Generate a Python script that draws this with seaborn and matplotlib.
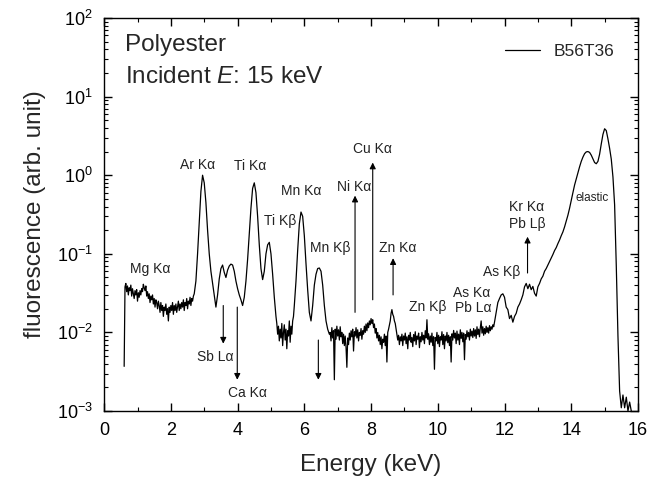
import numpy as np
import pandas as pd
import matplotlib
matplotlib.use("Agg")
import matplotlib.pyplot as plt
from matplotlib.ticker import LogLocator, MultipleLocator, NullFormatter
import seaborn as sns

# spectrum, in segments (finer steps where the trace is noisy)
energy_a = np.round(np.linspace(0.600, 2.700, 85), 3)     # 0.025 keV
fluor_a = [
    0.0037, 0.038, 0.042, 0.033, 0.039, 0.030, 0.037, 0.034, 0.040, 0.029,
    0.036, 0.031, 0.027, 0.034, 0.030, 0.035, 0.025, 0.032, 0.028, 0.034,
    0.030, 0.036, 0.033, 0.041, 0.037, 0.034, 0.039, 0.029, 0.033, 0.027,
    0.031, 0.024, 0.029, 0.026, 0.030, 0.023, 0.027, 0.021, 0.026, 0.024,
    0.020, 0.025, 0.022, 0.018, 0.024, 0.019, 0.022, 0.016, 0.021, 0.019,
    0.023, 0.017, 0.020, 0.014, 0.021, 0.018, 0.022, 0.019, 0.024, 0.017,
    0.022, 0.019, 0.023, 0.018, 0.021, 0.025, 0.019, 0.023, 0.020, 0.024,
    0.021, 0.026, 0.019, 0.024, 0.022, 0.027, 0.020, 0.025, 0.023, 0.028,
    0.022, 0.027, 0.025, 0.029, 0.031,
]
energy_b = np.round(np.linspace(2.75, 5.10, 48), 3)       # 0.05 keV
fluor_b = [
    0.045, 0.10, 0.25, 0.62, 1.00, 0.80, 0.45, 0.20, 0.10, 0.060,
    0.042, 0.030, 0.021, 0.030, 0.048, 0.065, 0.072, 0.058, 0.050, 0.062,
    0.070, 0.074, 0.072, 0.060, 0.045, 0.036, 0.030, 0.026, 0.022, 0.028,
    0.045, 0.085, 0.18, 0.38, 0.68, 0.80, 0.60, 0.30, 0.13, 0.065,
    0.047, 0.060, 0.10, 0.13, 0.14, 0.10, 0.055, 0.028,
]
energy_c = np.round(np.linspace(5.125, 5.700, 24), 3)     # 0.025 keV
fluor_c = [
    0.021, 0.016, 0.013, 0.0095, 0.012, 0.0078, 0.011, 0.0085, 0.013, 0.0068,
    0.010, 0.0125, 0.0080, 0.011, 0.0062, 0.0105, 0.0090, 0.014, 0.0075, 0.012,
    0.0095, 0.0140, 0.0160, 0.022,
]
energy_d = np.round(np.linspace(5.75, 6.75, 21), 3)       # 0.05 keV
fluor_d = [
    0.045, 0.11, 0.24, 0.34, 0.30, 0.17, 0.075, 0.035, 0.018, 0.014,
    0.022, 0.040, 0.055, 0.065, 0.066, 0.060, 0.040, 0.022, 0.014, 0.011,
    0.0095,
]
energy_e = np.round(np.linspace(6.775, 11.700, 198), 3)   # 0.025 keV
fluor_e = [
    0.0100, 0.0078, 0.0115, 0.0085, 0.0105, 0.0025, 0.0110, 0.0082, 0.0120, 0.0090,
    0.0108, 0.0080, 0.0118, 0.0088, 0.0100, 0.0072, 0.0095, 0.0068, 0.0090, 0.0065,
    0.0036, 0.0085, 0.0070, 0.0098, 0.0080, 0.0105, 0.0088, 0.0110, 0.0058, 0.0102,
    0.0090, 0.0115, 0.0085, 0.0108, 0.0078, 0.0100, 0.0092, 0.0112, 0.0082, 0.0105,
    0.0095, 0.0120, 0.0100, 0.0128, 0.0105, 0.0132, 0.0115, 0.0140, 0.0125, 0.0150,
    0.0130, 0.0145, 0.0115, 0.0128, 0.0098, 0.0112, 0.0085, 0.0100, 0.0078, 0.0092,
    0.0070, 0.0088, 0.0062, 0.0082, 0.0075, 0.0095, 0.0068, 0.0090, 0.0042, 0.0100,
    0.0110, 0.0125, 0.0140, 0.0175, 0.0195, 0.0170, 0.0160, 0.0140, 0.0130, 0.0110,
    0.0095, 0.0080, 0.0092, 0.0070, 0.0088, 0.0078, 0.0095, 0.0068, 0.0090, 0.0080,
    0.0098, 0.0072, 0.0088, 0.0062, 0.0092, 0.0080, 0.0100, 0.0075, 0.0086, 0.0066,
    0.0094, 0.0078, 0.0102, 0.0070, 0.0090, 0.0082, 0.0098, 0.0064, 0.0088, 0.0076,
    0.0100, 0.0080, 0.0092, 0.0072, 0.0105, 0.0085, 0.0145, 0.0082, 0.0096, 0.0070,
    0.0090, 0.0075, 0.0098, 0.0068, 0.0088, 0.0034, 0.0086, 0.0078, 0.0100, 0.0072,
    0.0092, 0.0066, 0.0088, 0.0080, 0.0102, 0.0070, 0.0094, 0.0062, 0.0090, 0.0078,
    0.0100, 0.0074, 0.0092, 0.0068, 0.0088, 0.0042, 0.0096, 0.0080, 0.0106, 0.0085,
    0.0098, 0.0072, 0.0104, 0.0080, 0.0095, 0.0070, 0.0108, 0.0084, 0.0100, 0.0076,
    0.0098, 0.0045, 0.0094, 0.0082, 0.0105, 0.0088, 0.0100, 0.0080, 0.0110, 0.0090,
    0.0104, 0.0086, 0.0112, 0.0090, 0.0108, 0.0084, 0.0118, 0.0094, 0.0110, 0.0088,
    0.0115, 0.0140, 0.0098, 0.0118, 0.0092, 0.0112, 0.0096, 0.0120, 0.0100, 0.0115,
    0.0098, 0.0122, 0.0105, 0.0118, 0.0110, 0.0125, 0.0118, 0.0135,
]
energy_f = np.round(np.linspace(11.75, 15.80, 82), 3)     # 0.05 keV
fluor_f = [
    0.0180, 0.0240, 0.0270, 0.0300, 0.0310, 0.0280, 0.0210, 0.0195, 0.0150, 0.0165,
    0.0135, 0.0160, 0.0175, 0.0210, 0.0230, 0.0260, 0.0300, 0.0380, 0.0420, 0.0360,
    0.0410, 0.0350, 0.0385, 0.0315, 0.0290, 0.0380, 0.0420, 0.048, 0.052, 0.060,
    0.065, 0.072, 0.080, 0.088, 0.098, 0.110, 0.120, 0.135, 0.150, 0.170,
    0.190, 0.220, 0.260, 0.310, 0.380, 0.480, 0.600, 0.75, 0.90, 1.08,
    1.28, 1.50, 1.70, 1.88, 1.98, 2.00, 1.95, 1.80, 1.62, 1.45,
    1.40, 1.50, 1.85, 2.50, 3.30, 3.90, 3.70, 2.90, 2.20, 1.60,
    0.95, 0.42, 0.070, 0.0090, 0.0018, 0.0011, 0.0016, 0.0011, 0.0015, 0.0010,
    0.0013, 0.0010,
]

# peak labels: text, energy (keV), height
label_text = ["Mg K\u03b1", "Ar K\u03b1", "Ti K\u03b1", "Ti K\u03b2", "Mn K\u03b1", "Mn K\u03b2",
              "Ni K\u03b1", "Cu K\u03b1", "Zn K\u03b1", "Zn K\u03b2", "As K\u03b1", "Pb L\u03b1",
              "As K\u03b2", "Kr K\u03b1", "Pb L\u03b2", "Sb L\u03b1", "Ca K\u03b1"]
label_x = [1.38, 2.80, 4.39, 5.27, 5.90, 6.77, 7.49, 8.03, 8.80, 9.70, 11.02, 11.06,
           11.90, 12.67, 12.67, 3.32, 4.28]
label_y = [0.064, 1.34, 1.30, 0.26, 0.63, 0.118, 0.70, 2.14, 0.12, 0.021, 0.032, 0.0205,
           0.058, 0.39, 0.238, 0.0048, 0.0017]

# arrows: energy, tail, head
arrow_x = [3.57, 3.99, 6.42, 7.52, 8.05, 8.66, 12.69]
arrow_from = [0.022, 0.021, 0.008, 0.018, 0.026, 0.030, 0.057]
arrow_to = [0.0072, 0.0025, 0.0025, 0.55, 1.45, 0.088, 0.165]

df = pd.DataFrame({
    "Energy": np.concatenate([energy_a, energy_b, energy_c, energy_d, energy_e, energy_f]),
    "fluor": fluor_a + fluor_b + fluor_c + fluor_d + fluor_e + fluor_f,
})

sns.set_theme(style="ticks")
plt.rcParams["font.family"] = ["Liberation Sans", "DejaVu Sans"]
plt.rcParams["mathtext.fontset"] = "custom"
plt.rcParams["mathtext.rm"] = "Liberation Sans"
plt.rcParams["mathtext.it"] = "Liberation Sans:italic"

fig = plt.figure(figsize=(6.55, 4.87), dpi=100)
ax = fig.add_axes([0.159, 0.156, 0.815, 0.807])

sns.lineplot(data=df, x="Energy", y="fluor", ax=ax, color="black", lw=0.9,
             estimator=None, sort=False, label="B56T36")

ax.set_yscale("log")
ax.set_xlim(0, 16)
ax.set_ylim(1e-3, 1e2)
ax.xaxis.set_major_locator(MultipleLocator(2))
ax.xaxis.set_minor_locator(MultipleLocator(1))
ax.yaxis.set_major_locator(LogLocator(base=10, numticks=10))
ax.yaxis.set_minor_locator(LogLocator(base=10, subs=np.arange(2, 10), numticks=20))
ax.yaxis.set_minor_formatter(NullFormatter())
ax.tick_params(which="both", direction="in", top=True, right=True, colors="black",
               labelsize=13)
ax.tick_params(which="major", length=6, width=1)
ax.tick_params(which="minor", length=3, width=0.8)
ax.tick_params(axis="x", pad=8)
ax.tick_params(axis="y", pad=8)
for s in ax.spines.values():
    s.set_color("black")
    s.set_linewidth(1.0)

ax.set_xlabel("Energy (keV)", fontsize=17.5, labelpad=11)
ax.set_ylabel("fluorescence (arb. unit)", fontsize=17.5, labelpad=8)

ax.text(0.04, 0.931, "Polyester", transform=ax.transAxes, fontsize=17.5, va="center")
ax.text(0.04, 0.85, "Incident $\\it{E}$: 15 keV", transform=ax.transAxes,
        fontsize=17.5, va="center")

for t, x, y in zip(label_text, label_x, label_y):
    ax.text(x, y, t, fontsize=10, color="#222222", ha="center", va="center")
ax.text(14.64, 0.51, "elastic", fontsize=8.5, color="#222222", ha="center", va="center")

for x, y0, y1 in zip(arrow_x, arrow_from, arrow_to):
    ax.annotate("", xy=(x, y1), xytext=(x, y0),
                arrowprops=dict(arrowstyle="-|>", color="black", lw=0.8,
                                mutation_scale=9, shrinkA=0, shrinkB=0))

leg = ax.legend(loc="upper right", frameon=False, fontsize=12.5, handlelength=2.0,
                bbox_to_anchor=(0.985, 0.975))

fig.savefig("out.png", dpi=100)
